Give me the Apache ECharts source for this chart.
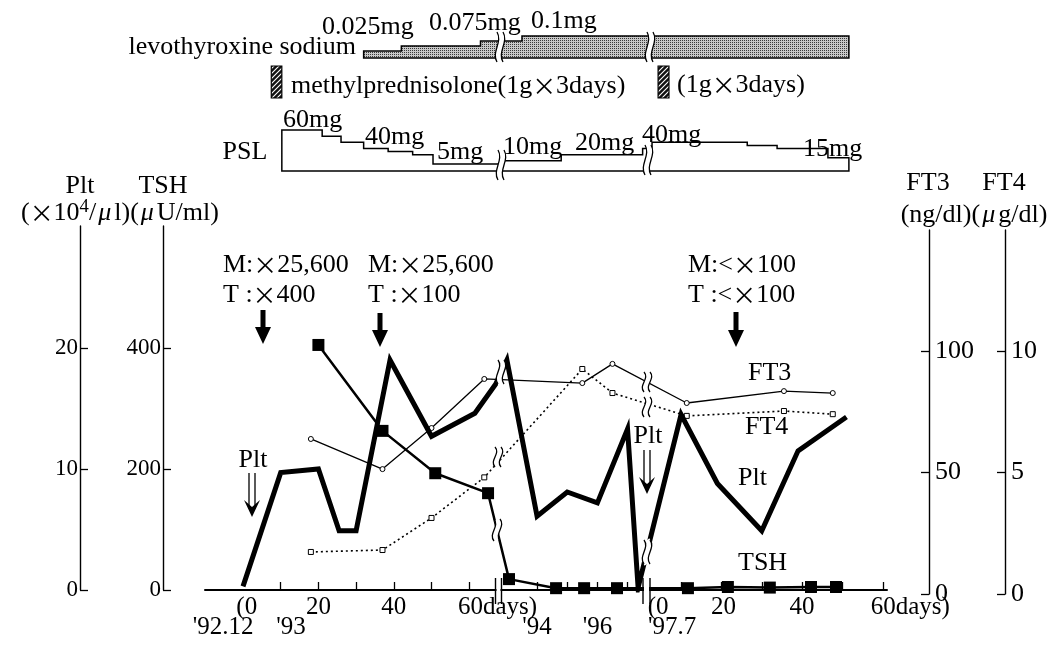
<!DOCTYPE html>
<html><head><meta charset="utf-8">
<script src="https://cdn.jsdelivr.net/npm/echarts@6/dist/echarts.min.js"></script>
<style>html,body{margin:0;padding:0;background:#fff}#c{width:1059px;height:651px}</style>
</head><body><div id="c"></div>
<script>
// ---------- data (segment 1: days from '92.12, segment 2: calendar year, segment 3: days from '97.7) ----------
const pltSeg = [1,1,1,1,1,1,1,1,1, 2,2,2,2,2,2, 3,3,3,3,3];
const pltT   = [0,10,20,25.5,30,39,50,61.5,67, 1993.0,1994,1995,1996,1997,1997.35, 10,19,30,39,51];
const pltVal = [0.3,9.7,10,4.9,4.9,19,12.7,14.6,17, 19,6.1,8.1,7.2,13.3,0.2, 14.5,8.8,4.9,11.5,14.3];

const tshSeg = [1,1,1,1, 2,2,2,2, 3,3,3,3,3];
const tshT   = [20,37,51,65, 1993.07,1994.63,1995.56,1996.65, 11.7,21.6,32,42.2,48.4];
const tshVal = [405,263,193,160, 18,3,3,3, 3,5,4,5,5];

const thySeg = [1,1,1,1, 2,2, 3,3,3];
const thyT   = [18,37,50,64, 1995.5,1996.5, 11.4,35.5,47.6];
const ft3Val = [63.8,51.4,68.3,88.5, 86.8,94.7, 78.6,83.5,82.7];
const ft4Val = [1.73,1.81,3.13,4.8, 9.26,8.27, 7.33,7.53,7.4];

// levothyroxine sodium dose steps (mg)
const levoSeg  = [1,1,1,2];
const levoT    = [32,42,63,1993.5];
const levoDose = [0.025,0.05,0.075,0.1];
const levoEnd  = [3,51.6];

// PSL dose steps (mg)
const pslSeg  = [1,1,1,1,1,1,1, 2,2,2, 3,3,3,3];
const pslT    = [10.3,21,26,32,38.5,45,50.4, 1992.8,1994.8,1997.5, 2.8,26.4,33.8,46.4];
const pslDose = [60,50,40,30,25,20,5, 10,20,30, 40,35,30,15];
const pslEnd  = [3,51.6];

// methylprednisolone pulses (1g x 3days)
const mpSeg   = [1,3];
const mpStart = [7.5,4.3];
const mpEnd   = [10.3,7.0];

// axis ticks / labels
const xTickSeg = [1,1,1,1,1,1, 2,2,2,2, 3,3,3,3,3,3];
const xTickT   = [10,20,30,40,50,60, 1994,1995,1996,1997, 10,20,30,40,50,60];
const row1Seg  = [1,1,1,3,3,3];
const row1T    = [1,20,40,4.3,20.5,40];
const row1Text = ['(0','20','40','(0','20','40'];
const endSeg   = [1,3];
const endT     = [57,57];
const endText  = ['60days)','60days)'];
const row2Seg  = [1,1,2,2,3];
const row2T    = [-5.3,12.7,1994,1996,7.8];
const row2Text = ["'92.12","'93","'94","'96","'97.7"];
const pltTicks = [0,10,20], tshTicks = [0,200,400], ft3Ticks = [0,50,100], ft4Ticks = [0,5,10];

// ---------- helpers ----------
function pos(seg, t){ if(seg===1) return t; if(seg===2) return 78+(t-1994)*8; return 105.5+t*1.07; }
function pairs(segs, ts, vals){ return ts.map((t,i)=>[pos(segs[i],t), vals[i]]); }
const XMIN=-10.08, XMAX=170.82;
const FONT='"Liberation Serif","Times New Roman",serif';
const CJK='"Noto Sans CJK JP",sans-serif';

function pick(list, texts){ return function(v){ let b=0,bd=1e9; list.forEach((x,i)=>{const d=Math.abs(x-v); if(d<bd){bd=d;b=i;}}); return texts[b]; }; }
function makePattern(draw,w,h){ const c=document.createElement('canvas'); c.width=w;c.height=h; draw(c.getContext('2d')); return {image:c, repeat:'repeat'}; }
const stipple = makePattern(ctx=>{ctx.fillStyle='#c8c8c8';ctx.fillRect(0,0,2,2);ctx.fillStyle='#3a3a3a';ctx.fillRect(0,0,1,1);},2,2);
const hatch = makePattern(ctx=>{ctx.fillStyle='#111';ctx.fillRect(0,0,5,5);ctx.strokeStyle='#fff';ctx.lineWidth=1.1;ctx.beginPath();ctx.moveTo(0,5);ctx.lineTo(5,0);ctx.moveTo(-1,1);ctx.lineTo(1,-1);ctx.moveTo(4,6);ctx.lineTo(6,4);ctx.stroke();},5,5);

function stepCorners(segs, ts, vals, end, base){
  const xs = ts.map((t,i)=>pos(segs[i],t)); const xe = pos(end[0],end[1]);
  const pts=[[xs[0],base]];
  for(let i=0;i<xs.length;i++){ const xn = i<xs.length-1 ? xs[i+1] : xe; pts.push([xs[i],vals[i]]); pts.push([xn,vals[i]]); }
  pts.push([xe,base]);
  return pts;
}
const LEVO_MIN=-0.01, PSL_MIN=-6.45;
const levoCorners = stepCorners(levoSeg, levoT, levoDose, levoEnd, LEVO_MIN);
const pslCorners  = stepCorners(pslSeg, pslT, pslDose, pslEnd, PSL_MIN);

// ---------- decorations ----------
function T(text,x,y,align,size){
  size=size||26;
  const rt = text.replace(/×/g,'{x|×}').replace(/μ/g,'{m|μ}').replace(/⁴/g,'{s|4}');
  return {type:'text',x:x,y:y,z:100,style:{text:rt,fontSize:size,fontFamily:FONT,fill:'#000',
    textAlign:align||'left',textVerticalAlign:'middle',align:align||'left',verticalAlign:'middle',
    rich:{x:{fontFamily:CJK,fontSize:size*0.92,fill:'#000'},m:{fontFamily:FONT,fontSize:size,fontStyle:'italic',fill:'#000',padding:[0,3,0,2]},
          s:{fontFamily:FONT,fontSize:size*0.72,fill:'#000',verticalAlign:'top',padding:[0,0,12,0]}}}};
}
function arrowDown(cx,top,bottom){ return {type:'polygon',z:100,shape:{points:[[cx-2.5,top],[cx+2.5,top],[cx+2.5,bottom-17],[cx+8,bottom-17],[cx,bottom],[cx-8,bottom-17],[cx-2.5,bottom-17]]},style:{fill:'#000'}}; }
function L(x1,y1,x2,y2,w,c){ return {type:'line',z:100,shape:{x1:x1,y1:y1,x2:x2,y2:y2},style:{stroke:c||'#000',lineWidth:w||1.3}}; }
function dblArrow(cx,top,bottom){ return [L(cx-3,top,cx-3,bottom-8,1.3),L(cx+3,top,cx+3,bottom-8,1.3),{type:'polygon',z:100,shape:{points:[[cx-8,bottom-17],[cx,bottom-10],[cx+8,bottom-17],[cx,bottom]]},style:{fill:'#000'}}]; }
function wave(x,y,h){
  const mk=(dx,c,w)=>({type:'bezierCurve',z:101,shape:{x1:x+dx,y1:y-h/2,x2:x+dx,y2:y+h/2,cpx1:x+dx+6,cpy1:y-h/6,cpx2:x+dx-6,cpy2:y+h/6},style:{stroke:c,lineWidth:w,fill:null}});
  return [mk(0,'#fff',6),mk(-3,'#000',1.3),mk(3,'#000',1.3)];
}
function axisBreak(x1,x2){ return [{type:'rect',z:100,shape:{x:x1+1,y:583,width:x2-x1-2,height:16},style:{fill:'#fff'}},L(x1,578,x1,604,1.4),L(x2,578,x2,604,1.4)]; }

const graphics = [].concat(
  [T('Plt',80,186,'center'),T('TSH',163,186,'center'),T('(×10⁴/μl)(μU/ml)',120,213,'center'),
   T('FT3',928,183,'center'),T('FT4',1004,183,'center'),T('(ng/dl)(μg/dl)',974,215,'center'),
   T('levothyroxine sodium',356,47,'right'),T('0.025mg',322,27),T('0.075mg',429,23),T('0.1mg',531,21),
   T('methylprednisolone(1g×3days)',291,86),T('(1g×3days)',677,85),
   T('PSL',245,152,'center'),T('60mg',283,120),T('40mg',365,137),T('5mg',437,152),T('10mg',503,147),T('20mg',575,143),T('40mg',642,135),T('15mg',803,149),
   T('M:×25,600',223,265),T('T :×400',223,295),T('M:×25,600',368,265),T('T :×100',368,295),T('M:<×100',688,265),T('T :<×100',688,295),
   arrowDown(263,310,344),arrowDown(380,313,347),arrowDown(736,312,347),
   T('Plt',253,460,'center'),T('Plt',648,436,'center'),
   T('FT3',748,373),T('FT4',745,427),T('Plt',738,478),T('TSH',738,563)],
  dblArrow(252,473,517),dblArrow(647,450,494),
  axisBreak(495.5,501.5),axisBreak(643,650),
  wave(501,372,24),wave(498,457,20),wave(497,530,22),
  wave(647,382,20),wave(647,407,20),wave(647,552,24),
  wave(500,47,30),wave(650,47,30),wave(501,165,30),wave(648,160,30)
);

// ---------- chart ----------
const chart = echarts.init(document.getElementById('c'), null, {renderer:'canvas'});
const hiddenX = g=>({type:'value',gridIndex:g,min:XMIN,max:XMAX,show:false});
const axisCommon = {axisLine:{show:true,onZero:false,lineStyle:{color:'#000',width:1.4}},splitLine:{show:false}};
const tickVals = xTickT.map((t,i)=>pos(xTickSeg[i],t));
const r1 = row1T.map((t,i)=>pos(row1Seg[i],t));
const r3 = endT.map((t,i)=>pos(endSeg[i],t));
const r2 = row2T.map((t,i)=>pos(row2Seg[i],t));
const labStyle = {fontSize:25,fontFamily:FONT,color:'#000'};

chart.setOption({
  animation:false,
  backgroundColor:'#fff',
  grid:[
    {left:205,right:172,top:226,bottom:61},
    {left:205,right:172,top:230,bottom:57},
    {left:205,right:172,top:36,height:22},
    {left:205,right:172,top:130,height:41},
    {left:205,right:172,top:66,height:32}
  ],
  xAxis:[
    {type:'value',gridIndex:0,min:XMIN,max:XMAX,position:'bottom',
     axisLine:{show:true,onZero:false,lineStyle:{color:'#000',width:2}},
     axisTick:{show:true,inside:true,length:8,lineStyle:{color:'#000',width:1.3},customValues:tickVals},
     axisLabel:{show:false},splitLine:{show:false}},
    {type:'value',gridIndex:0,min:XMIN,max:XMAX,position:'bottom',axisLine:{show:false},axisTick:{show:false},splitLine:{show:false},
     axisLabel:Object.assign({customValues:r1,formatter:pick(r1,row1Text),margin:5,align:'center'},labStyle)},
    {type:'value',gridIndex:0,min:XMIN,max:XMAX,position:'bottom',axisLine:{show:false},axisTick:{show:false},splitLine:{show:false},
     axisLabel:Object.assign({customValues:r3,formatter:pick(r3,endText),margin:5,align:'left'},labStyle)},
    {type:'value',gridIndex:0,min:XMIN,max:XMAX,position:'bottom',offset:20,axisLine:{show:false},axisTick:{show:false},splitLine:{show:false},
     axisLabel:Object.assign({customValues:r2,formatter:pick(r2,row2Text),margin:5,align:'center'},labStyle)},
    hiddenX(1),hiddenX(2),hiddenX(3),hiddenX(4)
  ],
  yAxis:[
    Object.assign({type:'value',gridIndex:0,position:'left',offset:125,min:0,max:30.08,
      axisTick:{show:true,inside:true,length:8,customValues:pltTicks,lineStyle:{color:'#000',width:1.3}},
      axisLabel:{customValues:pltTicks,margin:2,fontSize:23,fontFamily:FONT,color:'#000'}},axisCommon),
    Object.assign({type:'value',gridIndex:0,position:'left',offset:42,min:0,max:601.6,
      axisTick:{show:true,inside:true,length:8,customValues:tshTicks,lineStyle:{color:'#000',width:1.3}},
      axisLabel:{customValues:tshTicks,margin:2,fontSize:23,fontFamily:FONT,color:'#000'}},axisCommon),
    Object.assign({type:'value',gridIndex:1,position:'right',offset:42,min:0,max:149.8,
      axisTick:{show:true,inside:true,length:8,customValues:ft3Ticks,lineStyle:{color:'#000',width:1.3}},
      axisLabel:{customValues:ft3Ticks,margin:6,fontSize:26,fontFamily:FONT,color:'#000'}},axisCommon),
    Object.assign({type:'value',gridIndex:1,position:'right',offset:118,min:0,max:14.98,
      axisTick:{show:true,inside:true,length:8,customValues:ft4Ticks,lineStyle:{color:'#000',width:1.3}},
      axisLabel:{customValues:ft4Ticks,margin:6,fontSize:26,fontFamily:FONT,color:'#000'}},axisCommon),
    {type:'value',gridIndex:2,min:LEVO_MIN,max:0.1,show:false},
    {type:'value',gridIndex:3,min:PSL_MIN,max:60,show:false},
    {type:'value',gridIndex:4,min:0,max:1,show:false}
  ],
  series:[
    {name:'FT4',type:'line',xAxisIndex:4,yAxisIndex:3,data:pairs(thySeg,thyT,ft4Val),
     symbol:'rect',symbolSize:5,itemStyle:{color:'#fff',borderColor:'#000',borderWidth:1},
     lineStyle:{color:'#000',width:1.6,type:[2,3]},z:3},
    {name:'FT3',type:'line',xAxisIndex:4,yAxisIndex:2,data:pairs(thySeg,thyT,ft3Val),
     symbol:'circle',symbolSize:5,itemStyle:{color:'#fff',borderColor:'#000',borderWidth:1},
     lineStyle:{color:'#000',width:1.3},z:3},
    {name:'Plt',type:'line',xAxisIndex:0,yAxisIndex:0,data:pairs(pltSeg,pltT,pltVal),
     symbol:'none',lineStyle:{color:'#000',width:5,join:'miter',cap:'butt'},z:4},
    {name:'TSH',type:'line',xAxisIndex:0,yAxisIndex:1,data:pairs(tshSeg,tshT,tshVal),
     symbol:'rect',symbolSize:12,itemStyle:{color:'#000'},lineStyle:{color:'#000',width:2.5},z:5},
    {name:'levothyroxine sodium',type:'custom',xAxisIndex:5,yAxisIndex:4,data:[0],clip:false,
     renderItem:(p,api)=>({type:'polygon',shape:{points:levoCorners.map(c=>api.coord(c))},style:{fill:stipple,stroke:'#000',lineWidth:1.5}})},
    {name:'PSL',type:'custom',xAxisIndex:6,yAxisIndex:5,data:[0],clip:false,
     renderItem:(p,api)=>({type:'polygon',shape:{points:pslCorners.map(c=>api.coord(c))},style:{fill:'#fff',stroke:'#000',lineWidth:1.5}})},
    {name:'methylprednisolone',type:'custom',xAxisIndex:7,yAxisIndex:6,clip:false,
     data:mpStart.map((s,i)=>[pos(mpSeg[i],s),pos(mpSeg[i],mpEnd[i])]),
     renderItem:(p,api)=>{const a=api.coord([api.value(0),1]);const b=api.coord([api.value(1),0]);
       return {type:'rect',shape:{x:a[0],y:a[1],width:b[0]-a[0],height:b[1]-a[1]},style:{fill:hatch,stroke:'#000',lineWidth:1.2}};}}
  ],
  graphic:graphics
});
</script></body></html>
